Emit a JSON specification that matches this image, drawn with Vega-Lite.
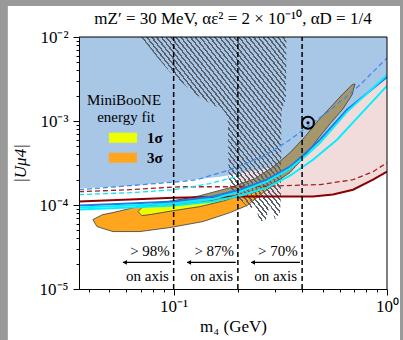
{
  "$schema": "https://vega.github.io/schema/vega-lite/v6.json",
  "width": 308,
  "height": 252,
  "autosize": {"type": "none"},
  "padding": {"left": 79, "top": 37, "right": 16, "bottom": 51},
  "background": "#999999",
  "title": {"text": "mZ′ = 30 MeV, αε² = 2 × 10⁻¹⁰, αD = 1/4", "font": "Liberation Serif", "fontSize": 17, "fontWeight": "normal", "color": "black", "offset": -22, "frame": "group", "anchor": "middle", "zindex": 1},
  "config": {
    "view": {"stroke": null},
    "text": {"font": "Liberation Serif"}
  },
  "datasets": {
    "frame": [{"x": 0.0167, "x2": 1.151, "y": 0.000001, "y2": 0.02334}],
    "excl": [
      {"x": 0.036, "y": 0.000157, "y2": 0.01},
      {"x": 0.0624, "y": 0.00017, "y2": 0.01},
      {"x": 0.1003, "y": 0.00019, "y2": 0.01},
      {"x": 0.1648, "y": 0.000217, "y2": 0.01},
      {"x": 0.2279, "y": 0.000249, "y2": 0.01},
      {"x": 0.2828, "y": 0.000278, "y2": 0.01},
      {"x": 0.351, "y": 0.000328, "y2": 0.01},
      {"x": 0.4217, "y": 0.000431, "y2": 0.01},
      {"x": 0.4852, "y": 0.000598, "y2": 0.01},
      {"x": 0.6495, "y": 0.001358, "y2": 0.01},
      {"x": 1.0, "y": 0.003348, "y2": 0.01}
    ],
    "pink": [
      {"x": 0.2045, "y": 0.000126, "y2": 0.000236},
      {"x": 0.2828, "y": 0.000126, "y2": 0.000278},
      {"x": 0.351, "y": 0.000126, "y2": 0.000328},
      {"x": 0.4217, "y": 0.000126, "y2": 0.000431},
      {"x": 0.4852, "y": 0.000128, "y2": 0.000598},
      {"x": 0.5583, "y": 0.000133, "y2": 0.000889},
      {"x": 0.6495, "y": 0.000146, "y2": 0.001358},
      {"x": 0.747, "y": 0.000163, "y2": 0.00182},
      {"x": 0.8599, "y": 0.0002, "y2": 0.00244},
      {"x": 1.0, "y": 0.000249, "y2": 0.003348}
    ],
    "orange": [
      {"x": 0.04183, "y": 0.0000671, "y2": 0.0000671},
      {"x": 0.04369, "y": 0.0000554, "y2": 0.0000709},
      {"x": 0.04661, "y": 0.0000525, "y2": 0.0000769},
      {"x": 0.05193, "y": 0.0000483, "y2": 0.0000812},
      {"x": 0.06951, "y": 0.0000483, "y2": 0.000097},
      {"x": 0.09609, "y": 0.0000539, "y2": 0.0001112},
      {"x": 0.1372, "y": 0.0000635, "y2": 0.000126},
      {"x": 0.1836, "y": 0.0000812, "y2": 0.000144},
      {"x": 0.2207, "y": 0.0000984, "y2": 0.000161},
      {"x": 0.2622, "y": 0.00014, "y2": 0.000195},
      {"x": 0.2828, "y": 0.000161, "y2": 0.000212},
      {"x": 0.315, "y": 0.0002, "y2": 0.000249},
      {"x": 0.3625, "y": 0.000278, "y2": 0.000319},
      {"x": 0.3909, "y": 0.000328, "y2": 0.000376},
      {"x": 0.4217, "y": 0.000419, "y2": 0.000455},
      {"x": 0.4355, "y": 0.000508, "y2": 0.000508}
    ],
    "yellow": [
      {"x": 0.06802, "y": 0.0000835, "y2": 0.0000835},
      {"x": 0.07103, "y": 0.0000748, "y2": 0.0000931},
      {"x": 0.07743, "y": 0.0000769, "y2": 0.0000984},
      {"x": 0.1003, "y": 0.0000858, "y2": 0.000104},
      {"x": 0.1328, "y": 0.0000957, "y2": 0.000116},
      {"x": 0.1739, "y": 0.000113, "y2": 0.000133},
      {"x": 0.2279, "y": 0.000144, "y2": 0.000161},
      {"x": 0.2594, "y": 0.000185, "y2": 0.000185}
    ],
    "olive": [
      {"x": 0.08624, "y": 0.000104, "y2": 0.000104},
      {"x": 0.09609, "y": 0.0000984, "y2": 0.00011},
      {"x": 0.1328, "y": 0.000107, "y2": 0.000129},
      {"x": 0.1836, "y": 0.000122, "y2": 0.000161},
      {"x": 0.2404, "y": 0.000142, "y2": 0.000206},
      {"x": 0.2985, "y": 0.000185, "y2": 0.000294},
      {"x": 0.351, "y": 0.000243, "y2": 0.000419},
      {"x": 0.4127, "y": 0.000386, "y2": 0.000649},
      {"x": 0.4748, "y": 0.000614, "y2": 0.001008},
      {"x": 0.5404, "y": 0.000926, "y2": 0.001435},
      {"x": 0.6216, "y": 0.001396, "y2": 0.002104},
      {"x": 0.6854, "y": 0.002047, "y2": 0.002691},
      {"x": 0.7079, "y": 0.002765, "y2": 0.002765}
    ],
    "hatch": [
      {"x": 0.07027, "y": 0.01, "y2": 0.01},
      {"x": 0.07743, "y": 0.0074, "y2": 0.01},
      {"x": 0.08349, "y": 0.005786, "y2": 0.01},
      {"x": 0.09609, "y": 0.00384, "y2": 0.01},
      {"x": 0.1155, "y": 0.002548, "y2": 0.01},
      {"x": 0.1328, "y": 0.001886, "y2": 0.01},
      {"x": 0.1528, "y": 0.001557, "y2": 0.01},
      {"x": 0.1702, "y": 0.001358, "y2": 0.01},
      {"x": 0.1778, "y": 0.001153, "y2": 0.01},
      {"x": 0.1797, "y": 0.000902, "y2": 0.01},
      {"x": 0.1806, "y": 0.000217, "y2": 0.01},
      {"x": 0.1876, "y": 0.000133, "y2": 0.01},
      {"x": 0.2045, "y": 0.000116, "y2": 0.01},
      {"x": 0.2279, "y": 0.0000882, "y2": 0.01},
      {"x": 0.2404, "y": 0.000101, "y2": 0.01},
      {"x": 0.2538, "y": 0.0000635, "y2": 0.01},
      {"x": 0.2708, "y": 0.0000671, "y2": 0.01},
      {"x": 0.2828, "y": 0.000101, "y2": 0.01},
      {"x": 0.2985, "y": 0.0000671, "y2": 0.01},
      {"x": 0.315, "y": 0.0000812, "y2": 0.01},
      {"x": 0.3184, "y": 0.000133, "y2": 0.01},
      {"x": 0.3201, "y": 0.001286, "y2": 0.01},
      {"x": 0.3254, "y": 0.001474, "y2": 0.01},
      {"x": 0.3361, "y": 0.001786, "y2": 0.01},
      {"x": 0.3379, "y": 0.01, "y2": 0.01}
    ],
    "bluedash": [
      {"x": 0.036, "y": 0.000152},
      {"x": 0.0624, "y": 0.00017},
      {"x": 0.107, "y": 0.00019},
      {"x": 0.1286, "y": 0.0002},
      {"x": 0.1836, "y": 0.000263},
      {"x": 0.2622, "y": 0.000376},
      {"x": 0.351, "y": 0.000598},
      {"x": 0.4498, "y": 0.000952},
      {"x": 0.5583, "y": 0.001435},
      {"x": 0.747, "y": 0.002691},
      {"x": 1.0, "y": 0.00563}
    ],
    "reddash": [
      {"x": 0.036, "y": 0.000144},
      {"x": 0.0624, "y": 0.000152},
      {"x": 0.107, "y": 0.000165},
      {"x": 0.2207, "y": 0.000165},
      {"x": 0.4852, "y": 0.000175},
      {"x": 0.6929, "y": 0.0002},
      {"x": 0.8599, "y": 0.000249},
      {"x": 1.0, "y": 0.000319}
    ],
    "redsolid": [
      {"x": 0.036, "y": 0.00011},
      {"x": 0.0624, "y": 0.000116},
      {"x": 0.1003, "y": 0.000122},
      {"x": 0.2045, "y": 0.000126},
      {"x": 0.4498, "y": 0.000126},
      {"x": 0.5583, "y": 0.000133},
      {"x": 0.6929, "y": 0.000152},
      {"x": 0.8599, "y": 0.0002},
      {"x": 1.0, "y": 0.000249}
    ],
    "cyandash": [
      {"x": 0.036, "y": 0.000133},
      {"x": 0.0624, "y": 0.00014},
      {"x": 0.1003, "y": 0.000152},
      {"x": 0.148, "y": 0.00018},
      {"x": 0.2045, "y": 0.000223}
    ],
    "bluesolid": [
      {"x": 0.036, "y": 0.0000984},
      {"x": 0.0624, "y": 0.000104},
      {"x": 0.1003, "y": 0.00011},
      {"x": 0.1528, "y": 0.000126},
      {"x": 0.2045, "y": 0.000152},
      {"x": 0.2738, "y": 0.0002},
      {"x": 0.351, "y": 0.000286},
      {"x": 0.4217, "y": 0.000431},
      {"x": 0.4852, "y": 0.000598},
      {"x": 0.6495, "y": 0.001358},
      {"x": 1.0, "y": 0.003348}
    ],
    "cyan1": [
      {"x": 0.036, "y": 0.0000931},
      {"x": 0.0624, "y": 0.0000984},
      {"x": 0.1003, "y": 0.000104},
      {"x": 0.1528, "y": 0.000119},
      {"x": 0.2045, "y": 0.000144},
      {"x": 0.2738, "y": 0.00019},
      {"x": 0.351, "y": 0.000271},
      {"x": 0.4217, "y": 0.000397},
      {"x": 0.4852, "y": 0.000551},
      {"x": 0.6495, "y": 0.001286},
      {"x": 1.0, "y": 0.003537}
    ],
    "cyan2": [
      {"x": 0.036, "y": 0.0000882},
      {"x": 0.0624, "y": 0.0000931},
      {"x": 0.1003, "y": 0.0000984},
      {"x": 0.1528, "y": 0.00011},
      {"x": 0.2045, "y": 0.000129},
      {"x": 0.2738, "y": 0.000161},
      {"x": 0.351, "y": 0.000223},
      {"x": 0.4498, "y": 0.000346},
      {"x": 0.583, "y": 0.000598},
      {"x": 0.747, "y": 0.001185},
      {"x": 1.0, "y": 0.002618}
    ],
    "vlines": [
      {"x": 0.1, "y": 0.00001, "y2": 0.01},
      {"x": 0.2, "y": 0.00001, "y2": 0.01},
      {"x": 0.4, "y": 0.00001, "y2": 0.01}
    ],
    "arrows": [
      {"x": 0.0578, "x2": 0.0971, "y": 0.0000207},
      {"x": 0.1155, "x2": 0.1955, "y": 0.0000207},
      {"x": 0.2304, "x2": 0.3909, "y": 0.0000207}
    ],
    "ann": [
      {"x": 0.096, "y": 0.000028, "t": "> 98%"},
      {"x": 0.095, "y": 0.0000141, "t": "on axis"},
      {"x": 0.192, "y": 0.000028, "t": "> 87%"},
      {"x": 0.19, "y": 0.0000141, "t": "on axis"},
      {"x": 0.382, "y": 0.000028, "t": "> 70%"},
      {"x": 0.379, "y": 0.0000141, "t": "on axis"}
    ],
    "legtext": [
      {"x": 0.0585, "y": 0.001786, "t": "MiniBooNE"},
      {"x": 0.0598, "y": 0.001122, "t": "energy fit"}
    ],
    "sigtext": [
      {"x": 0.075, "y": 0.000632, "t": "1σ"},
      {"x": 0.075, "y": 0.000366, "t": "3σ"}
    ],
    "swatch": [
      {"x": 0.0497, "x2": 0.0673, "y": 0.000551, "y2": 0.000724, "c": "1σ"},
      {"x": 0.0497, "x2": 0.0673, "y": 0.000319, "y2": 0.000419, "c": "3σ"}
    ],
    "target": [{"x": 0.4263, "y": 0.000952}],
    "topspine": [{"x": 0.036, "x2": 1.0, "y": 0.01}],
    "rightspine": [{"x": 1.0, "y": 0.00001, "y2": 0.01}]
  },
  "encoding": {
    "x": {
      "field": "x", "type": "quantitative",
      "scale": {"type": "log", "domain": [0.036, 1.0], "nice": false, "zero": false},
      "axis": {
        "title": "m₄ (GeV)",
        "values": [0.04, 0.05, 0.06, 0.07, 0.08, 0.09, 0.1, 0.2, 0.3, 0.4, 0.5, 0.6, 0.7, 0.8, 0.9, 1.0],
        "labelExpr": "datum.value == 0.1 ? '10⁻¹' : datum.value == 1 ? '10⁰' : ''",
        "tickSize": {"condition": {"test": "datum.value == 0.1 || datum.value == 1", "value": 6}, "value": 3},
        "grid": false, "zindex": 1,
        "domainColor": "black", "tickColor": "black", "labelColor": "black", "titleColor": "black",
        "labelFont": "Liberation Serif", "titleFont": "Liberation Serif",
        "labelFontSize": 17, "titleFontSize": 17, "titleFontWeight": "normal",
        "labelPadding": 3, "titlePadding": 4, "labelOverlap": false, "labelFlush": false
      }
    },
    "y": {
      "field": "y", "type": "quantitative",
      "scale": {"type": "log", "domain": [0.00001, 0.01], "nice": false, "zero": false},
      "axis": {
        "title": "|Uμ4|",
        "values": [0.00001, 0.00002, 0.00003, 0.00004, 0.00005, 0.00006, 0.00007, 0.00008, 0.00009, 0.0001, 0.0002, 0.0003, 0.0004, 0.0005, 0.0006, 0.0007, 0.0008, 0.0009, 0.001, 0.002, 0.003, 0.004, 0.005, 0.006, 0.007, 0.008, 0.009, 0.01],
        "labelExpr": "datum.value == 0.01 ? '10⁻²' : datum.value == 0.001 ? '10⁻³' : datum.value == 0.0001 ? '10⁻⁴' : datum.value == 0.00001 ? '10⁻⁵' : ''",
        "tickSize": {"condition": {"test": "datum.value == 0.01 || datum.value == 0.001 || datum.value == 0.0001 || datum.value == 0.00001", "value": 6}, "value": 3},
        "grid": false, "zindex": 1,
        "domainColor": "black", "tickColor": "black", "labelColor": "black", "titleColor": "black",
        "labelFont": "Liberation Serif", "titleFont": "Liberation Serif",
        "labelFontSize": 17, "titleFontSize": 17, "titleFontWeight": "normal", "titleFontStyle": "italic",
        "labelPadding": 5, "titlePadding": 10, "labelOverlap": false
      }
    }
  },
  "layer": [
    {"data": {"name": "frame"}, "mark": {"type": "rect", "color": "white", "clip": false}, "encoding": {"x2": {"field": "x2"}, "y2": {"field": "y2"}}},
    {"data": {"name": "excl"}, "mark": {"type": "area", "color": "#a8c7e7", "clip": true}, "encoding": {"y2": {"field": "y2"}}},
    {"data": {"name": "pink"}, "mark": {"type": "area", "color": "#f2dcdb", "clip": true}, "encoding": {"y2": {"field": "y2"}}},
    {"data": {"name": "orange"}, "mark": {"type": "area", "fill": "#ffa51e", "stroke": "#3a3a3a", "strokeWidth": 0.8, "clip": true}, "encoding": {"y2": {"field": "y2"}}},
    {"data": {"name": "yellow"}, "mark": {"type": "area", "fill": "#eeff00", "stroke": "#3a3a3a", "strokeWidth": 0.8, "clip": true}, "encoding": {"y2": {"field": "y2"}}},
    {"data": {"name": "olive"}, "mark": {"type": "area", "fill": "#a6976b", "stroke": "#3a3a3a", "strokeWidth": 0.8, "clip": true}, "encoding": {"y2": {"field": "y2"}}},
    {"data": {"name": "hatch"}, "mark": {"type": "area", "clip": true, "fill": {"gradient": "linear", "x1": 0, "y1": 1, "x2": 1, "y2": 0, "stops": [
      {"offset": 0, "color": "#59606b"}, {"offset": 0.0065, "color": "#59606b"}, {"offset": 0.0065, "color": "rgba(89,96,107,0)"}, {"offset": 0.0167, "color": "rgba(89,96,107,0)"},
      {"offset": 0.0167, "color": "#59606b"}, {"offset": 0.0232, "color": "#59606b"}, {"offset": 0.0232, "color": "rgba(89,96,107,0)"}, {"offset": 0.0333, "color": "rgba(89,96,107,0)"},
      {"offset": 0.0333, "color": "#59606b"}, {"offset": 0.0398, "color": "#59606b"}, {"offset": 0.0398, "color": "rgba(89,96,107,0)"}, {"offset": 0.05, "color": "rgba(89,96,107,0)"},
      {"offset": 0.05, "color": "#59606b"}, {"offset": 0.0565, "color": "#59606b"}, {"offset": 0.0565, "color": "rgba(89,96,107,0)"}, {"offset": 0.0667, "color": "rgba(89,96,107,0)"},
      {"offset": 0.0667, "color": "#59606b"}, {"offset": 0.0732, "color": "#59606b"}, {"offset": 0.0732, "color": "rgba(89,96,107,0)"}, {"offset": 0.0833, "color": "rgba(89,96,107,0)"},
      {"offset": 0.0833, "color": "#59606b"}, {"offset": 0.0898, "color": "#59606b"}, {"offset": 0.0898, "color": "rgba(89,96,107,0)"}, {"offset": 0.1, "color": "rgba(89,96,107,0)"},
      {"offset": 0.1, "color": "#59606b"}, {"offset": 0.1065, "color": "#59606b"}, {"offset": 0.1065, "color": "rgba(89,96,107,0)"}, {"offset": 0.1167, "color": "rgba(89,96,107,0)"},
      {"offset": 0.1167, "color": "#59606b"}, {"offset": 0.1232, "color": "#59606b"}, {"offset": 0.1232, "color": "rgba(89,96,107,0)"}, {"offset": 0.1333, "color": "rgba(89,96,107,0)"},
      {"offset": 0.1333, "color": "#59606b"}, {"offset": 0.1398, "color": "#59606b"}, {"offset": 0.1398, "color": "rgba(89,96,107,0)"}, {"offset": 0.15, "color": "rgba(89,96,107,0)"},
      {"offset": 0.15, "color": "#59606b"}, {"offset": 0.1565, "color": "#59606b"}, {"offset": 0.1565, "color": "rgba(89,96,107,0)"}, {"offset": 0.1667, "color": "rgba(89,96,107,0)"},
      {"offset": 0.1667, "color": "#59606b"}, {"offset": 0.1732, "color": "#59606b"}, {"offset": 0.1732, "color": "rgba(89,96,107,0)"}, {"offset": 0.1833, "color": "rgba(89,96,107,0)"},
      {"offset": 0.1833, "color": "#59606b"}, {"offset": 0.1898, "color": "#59606b"}, {"offset": 0.1898, "color": "rgba(89,96,107,0)"}, {"offset": 0.2, "color": "rgba(89,96,107,0)"},
      {"offset": 0.2, "color": "#59606b"}, {"offset": 0.2065, "color": "#59606b"}, {"offset": 0.2065, "color": "rgba(89,96,107,0)"}, {"offset": 0.2167, "color": "rgba(89,96,107,0)"},
      {"offset": 0.2167, "color": "#59606b"}, {"offset": 0.2232, "color": "#59606b"}, {"offset": 0.2232, "color": "rgba(89,96,107,0)"}, {"offset": 0.2333, "color": "rgba(89,96,107,0)"},
      {"offset": 0.2333, "color": "#59606b"}, {"offset": 0.2398, "color": "#59606b"}, {"offset": 0.2398, "color": "rgba(89,96,107,0)"}, {"offset": 0.25, "color": "rgba(89,96,107,0)"},
      {"offset": 0.25, "color": "#59606b"}, {"offset": 0.2565, "color": "#59606b"}, {"offset": 0.2565, "color": "rgba(89,96,107,0)"}, {"offset": 0.2667, "color": "rgba(89,96,107,0)"},
      {"offset": 0.2667, "color": "#59606b"}, {"offset": 0.2732, "color": "#59606b"}, {"offset": 0.2732, "color": "rgba(89,96,107,0)"}, {"offset": 0.2833, "color": "rgba(89,96,107,0)"},
      {"offset": 0.2833, "color": "#59606b"}, {"offset": 0.2898, "color": "#59606b"}, {"offset": 0.2898, "color": "rgba(89,96,107,0)"}, {"offset": 0.3, "color": "rgba(89,96,107,0)"},
      {"offset": 0.3, "color": "#59606b"}, {"offset": 0.3065, "color": "#59606b"}, {"offset": 0.3065, "color": "rgba(89,96,107,0)"}, {"offset": 0.3167, "color": "rgba(89,96,107,0)"},
      {"offset": 0.3167, "color": "#59606b"}, {"offset": 0.3232, "color": "#59606b"}, {"offset": 0.3232, "color": "rgba(89,96,107,0)"}, {"offset": 0.3333, "color": "rgba(89,96,107,0)"},
      {"offset": 0.3333, "color": "#59606b"}, {"offset": 0.3398, "color": "#59606b"}, {"offset": 0.3398, "color": "rgba(89,96,107,0)"}, {"offset": 0.35, "color": "rgba(89,96,107,0)"},
      {"offset": 0.35, "color": "#59606b"}, {"offset": 0.3565, "color": "#59606b"}, {"offset": 0.3565, "color": "rgba(89,96,107,0)"}, {"offset": 0.3667, "color": "rgba(89,96,107,0)"},
      {"offset": 0.3667, "color": "#59606b"}, {"offset": 0.3732, "color": "#59606b"}, {"offset": 0.3732, "color": "rgba(89,96,107,0)"}, {"offset": 0.3833, "color": "rgba(89,96,107,0)"},
      {"offset": 0.3833, "color": "#59606b"}, {"offset": 0.3898, "color": "#59606b"}, {"offset": 0.3898, "color": "rgba(89,96,107,0)"}, {"offset": 0.4, "color": "rgba(89,96,107,0)"},
      {"offset": 0.4, "color": "#59606b"}, {"offset": 0.4065, "color": "#59606b"}, {"offset": 0.4065, "color": "rgba(89,96,107,0)"}, {"offset": 0.4167, "color": "rgba(89,96,107,0)"},
      {"offset": 0.4167, "color": "#59606b"}, {"offset": 0.4232, "color": "#59606b"}, {"offset": 0.4232, "color": "rgba(89,96,107,0)"}, {"offset": 0.4333, "color": "rgba(89,96,107,0)"},
      {"offset": 0.4333, "color": "#59606b"}, {"offset": 0.4398, "color": "#59606b"}, {"offset": 0.4398, "color": "rgba(89,96,107,0)"}, {"offset": 0.45, "color": "rgba(89,96,107,0)"},
      {"offset": 0.45, "color": "#59606b"}, {"offset": 0.4565, "color": "#59606b"}, {"offset": 0.4565, "color": "rgba(89,96,107,0)"}, {"offset": 0.4667, "color": "rgba(89,96,107,0)"},
      {"offset": 0.4667, "color": "#59606b"}, {"offset": 0.4732, "color": "#59606b"}, {"offset": 0.4732, "color": "rgba(89,96,107,0)"}, {"offset": 0.4833, "color": "rgba(89,96,107,0)"},
      {"offset": 0.4833, "color": "#59606b"}, {"offset": 0.4898, "color": "#59606b"}, {"offset": 0.4898, "color": "rgba(89,96,107,0)"}, {"offset": 0.5, "color": "rgba(89,96,107,0)"},
      {"offset": 0.5, "color": "#59606b"}, {"offset": 0.5065, "color": "#59606b"}, {"offset": 0.5065, "color": "rgba(89,96,107,0)"}, {"offset": 0.5167, "color": "rgba(89,96,107,0)"},
      {"offset": 0.5167, "color": "#59606b"}, {"offset": 0.5232, "color": "#59606b"}, {"offset": 0.5232, "color": "rgba(89,96,107,0)"}, {"offset": 0.5333, "color": "rgba(89,96,107,0)"},
      {"offset": 0.5333, "color": "#59606b"}, {"offset": 0.5398, "color": "#59606b"}, {"offset": 0.5398, "color": "rgba(89,96,107,0)"}, {"offset": 0.55, "color": "rgba(89,96,107,0)"},
      {"offset": 0.55, "color": "#59606b"}, {"offset": 0.5565, "color": "#59606b"}, {"offset": 0.5565, "color": "rgba(89,96,107,0)"}, {"offset": 0.5667, "color": "rgba(89,96,107,0)"},
      {"offset": 0.5667, "color": "#59606b"}, {"offset": 0.5732, "color": "#59606b"}, {"offset": 0.5732, "color": "rgba(89,96,107,0)"}, {"offset": 0.5833, "color": "rgba(89,96,107,0)"},
      {"offset": 0.5833, "color": "#59606b"}, {"offset": 0.5898, "color": "#59606b"}, {"offset": 0.5898, "color": "rgba(89,96,107,0)"}, {"offset": 0.6, "color": "rgba(89,96,107,0)"},
      {"offset": 0.6, "color": "#59606b"}, {"offset": 0.6065, "color": "#59606b"}, {"offset": 0.6065, "color": "rgba(89,96,107,0)"}, {"offset": 0.6167, "color": "rgba(89,96,107,0)"},
      {"offset": 0.6167, "color": "#59606b"}, {"offset": 0.6232, "color": "#59606b"}, {"offset": 0.6232, "color": "rgba(89,96,107,0)"}, {"offset": 0.6333, "color": "rgba(89,96,107,0)"},
      {"offset": 0.6333, "color": "#59606b"}, {"offset": 0.6398, "color": "#59606b"}, {"offset": 0.6398, "color": "rgba(89,96,107,0)"}, {"offset": 0.65, "color": "rgba(89,96,107,0)"},
      {"offset": 0.65, "color": "#59606b"}, {"offset": 0.6565, "color": "#59606b"}, {"offset": 0.6565, "color": "rgba(89,96,107,0)"}, {"offset": 0.6667, "color": "rgba(89,96,107,0)"},
      {"offset": 0.6667, "color": "#59606b"}, {"offset": 0.6732, "color": "#59606b"}, {"offset": 0.6732, "color": "rgba(89,96,107,0)"}, {"offset": 0.6833, "color": "rgba(89,96,107,0)"},
      {"offset": 0.6833, "color": "#59606b"}, {"offset": 0.6898, "color": "#59606b"}, {"offset": 0.6898, "color": "rgba(89,96,107,0)"}, {"offset": 0.7, "color": "rgba(89,96,107,0)"},
      {"offset": 0.7, "color": "#59606b"}, {"offset": 0.7065, "color": "#59606b"}, {"offset": 0.7065, "color": "rgba(89,96,107,0)"}, {"offset": 0.7167, "color": "rgba(89,96,107,0)"},
      {"offset": 0.7167, "color": "#59606b"}, {"offset": 0.7232, "color": "#59606b"}, {"offset": 0.7232, "color": "rgba(89,96,107,0)"}, {"offset": 0.7333, "color": "rgba(89,96,107,0)"},
      {"offset": 0.7333, "color": "#59606b"}, {"offset": 0.7398, "color": "#59606b"}, {"offset": 0.7398, "color": "rgba(89,96,107,0)"}, {"offset": 0.75, "color": "rgba(89,96,107,0)"},
      {"offset": 0.75, "color": "#59606b"}, {"offset": 0.7565, "color": "#59606b"}, {"offset": 0.7565, "color": "rgba(89,96,107,0)"}, {"offset": 0.7667, "color": "rgba(89,96,107,0)"},
      {"offset": 0.7667, "color": "#59606b"}, {"offset": 0.7732, "color": "#59606b"}, {"offset": 0.7732, "color": "rgba(89,96,107,0)"}, {"offset": 0.7833, "color": "rgba(89,96,107,0)"},
      {"offset": 0.7833, "color": "#59606b"}, {"offset": 0.7898, "color": "#59606b"}, {"offset": 0.7898, "color": "rgba(89,96,107,0)"}, {"offset": 0.8, "color": "rgba(89,96,107,0)"},
      {"offset": 0.8, "color": "#59606b"}, {"offset": 0.8065, "color": "#59606b"}, {"offset": 0.8065, "color": "rgba(89,96,107,0)"}, {"offset": 0.8167, "color": "rgba(89,96,107,0)"},
      {"offset": 0.8167, "color": "#59606b"}, {"offset": 0.8232, "color": "#59606b"}, {"offset": 0.8232, "color": "rgba(89,96,107,0)"}, {"offset": 0.8333, "color": "rgba(89,96,107,0)"},
      {"offset": 0.8333, "color": "#59606b"}, {"offset": 0.8398, "color": "#59606b"}, {"offset": 0.8398, "color": "rgba(89,96,107,0)"}, {"offset": 0.85, "color": "rgba(89,96,107,0)"},
      {"offset": 0.85, "color": "#59606b"}, {"offset": 0.8565, "color": "#59606b"}, {"offset": 0.8565, "color": "rgba(89,96,107,0)"}, {"offset": 0.8667, "color": "rgba(89,96,107,0)"},
      {"offset": 0.8667, "color": "#59606b"}, {"offset": 0.8732, "color": "#59606b"}, {"offset": 0.8732, "color": "rgba(89,96,107,0)"}, {"offset": 0.8833, "color": "rgba(89,96,107,0)"},
      {"offset": 0.8833, "color": "#59606b"}, {"offset": 0.8898, "color": "#59606b"}, {"offset": 0.8898, "color": "rgba(89,96,107,0)"}, {"offset": 0.9, "color": "rgba(89,96,107,0)"},
      {"offset": 0.9, "color": "#59606b"}, {"offset": 0.9065, "color": "#59606b"}, {"offset": 0.9065, "color": "rgba(89,96,107,0)"}, {"offset": 0.9167, "color": "rgba(89,96,107,0)"},
      {"offset": 0.9167, "color": "#59606b"}, {"offset": 0.9232, "color": "#59606b"}, {"offset": 0.9232, "color": "rgba(89,96,107,0)"}, {"offset": 0.9333, "color": "rgba(89,96,107,0)"},
      {"offset": 0.9333, "color": "#59606b"}, {"offset": 0.9398, "color": "#59606b"}, {"offset": 0.9398, "color": "rgba(89,96,107,0)"}, {"offset": 0.95, "color": "rgba(89,96,107,0)"},
      {"offset": 0.95, "color": "#59606b"}, {"offset": 0.9565, "color": "#59606b"}, {"offset": 0.9565, "color": "rgba(89,96,107,0)"}, {"offset": 0.9667, "color": "rgba(89,96,107,0)"},
      {"offset": 0.9667, "color": "#59606b"}, {"offset": 0.9732, "color": "#59606b"}, {"offset": 0.9732, "color": "rgba(89,96,107,0)"}, {"offset": 0.9833, "color": "rgba(89,96,107,0)"},
      {"offset": 0.9833, "color": "#59606b"}, {"offset": 0.9898, "color": "#59606b"}, {"offset": 0.9898, "color": "rgba(89,96,107,0)"}, {"offset": 1, "color": "rgba(89,96,107,0)"}
    ]}}, "encoding": {"y2": {"field": "y2"}}},
    {"data": {"name": "bluedash"}, "mark": {"type": "line", "color": "#3a8ded", "strokeWidth": 1.3, "strokeDash": [5, 3], "clip": true}},
    {"data": {"name": "reddash"}, "mark": {"type": "line", "color": "#a3201f", "strokeWidth": 1.3, "strokeDash": [5, 3], "clip": true}},
    {"data": {"name": "cyandash"}, "mark": {"type": "line", "color": "#00e8f5", "strokeWidth": 1.3, "strokeDash": [5, 3], "clip": true}},
    {"data": {"name": "redsolid"}, "mark": {"type": "line", "color": "#8b0000", "strokeWidth": 2, "clip": true}},
    {"data": {"name": "cyan2"}, "mark": {"type": "line", "color": "#00f0ff", "strokeWidth": 2, "clip": true}},
    {"data": {"name": "bluesolid"}, "mark": {"type": "line", "color": "#1f7ae6", "strokeWidth": 2, "clip": true}},
    {"data": {"name": "cyan1"}, "mark": {"type": "line", "color": "#00f0ff", "strokeWidth": 2, "clip": true}},
    {"data": {"name": "vlines"}, "mark": {"type": "rule", "color": "black", "strokeWidth": 1.5, "strokeDash": [5, 3]}, "encoding": {"y2": {"field": "y2"}}},
    {"data": {"name": "target"}, "mark": {"type": "point", "shape": "circle", "size": 144, "filled": false, "stroke": "black", "strokeWidth": 2, "opacity": 1}},
    {"data": {"name": "target"}, "mark": {"type": "point", "shape": "circle", "size": 10, "filled": true, "color": "black", "opacity": 1}},
    {"data": {"name": "arrows"}, "mark": {"type": "rule", "color": "black", "strokeWidth": 1.2}, "encoding": {"x2": {"field": "x2"}}},
    {"data": {"name": "arrows"}, "mark": {"type": "point", "shape": "triangle-left", "size": 22, "filled": true, "color": "black", "opacity": 1, "xOffset": 2}},
    {"data": {"name": "ann"}, "mark": {"type": "text", "align": "right", "baseline": "middle", "fontSize": 15, "color": "black"}, "encoding": {"text": {"field": "t"}}},
    {"data": {"name": "legtext"}, "mark": {"type": "text", "align": "center", "baseline": "middle", "fontSize": 15, "color": "black"}, "encoding": {"text": {"field": "t"}}},
    {"data": {"name": "swatch"}, "mark": {"type": "rect"}, "encoding": {"x2": {"field": "x2"}, "y2": {"field": "y2"}, "color": {"field": "c", "type": "nominal", "scale": {"domain": ["1σ", "3σ"], "range": ["#eeff00", "#ffa51e"]}, "legend": null}}},
    {"data": {"name": "sigtext"}, "mark": {"type": "text", "align": "left", "baseline": "middle", "fontSize": 15, "fontWeight": "bold", "color": "black"}, "encoding": {"text": {"field": "t"}}},
    {"data": {"name": "topspine"}, "mark": {"type": "rule", "color": "black", "strokeWidth": 1}, "encoding": {"x2": {"field": "x2"}}},
    {"data": {"name": "rightspine"}, "mark": {"type": "rule", "color": "black", "strokeWidth": 1}, "encoding": {"y2": {"field": "y2"}}}
  ]
}
